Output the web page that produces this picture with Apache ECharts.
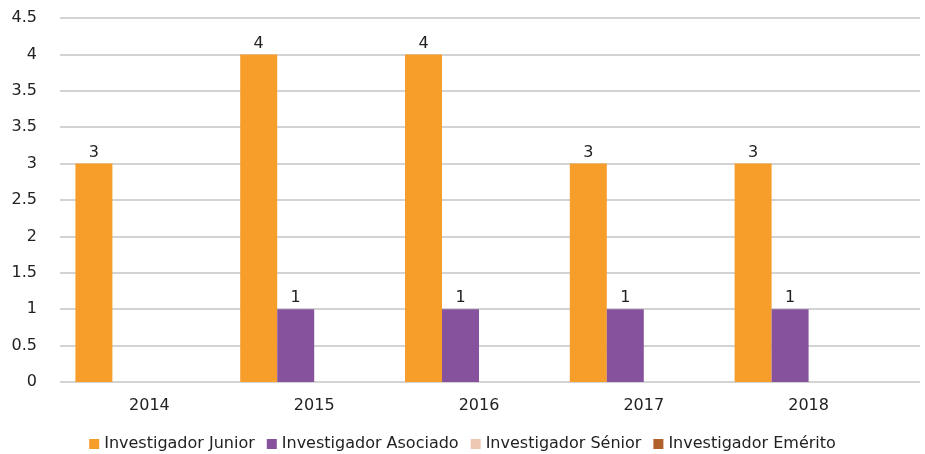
<!DOCTYPE html>
<html>
<head>
<meta charset="utf-8">
<script src="https://cdn.jsdelivr.net/npm/echarts@6/dist/echarts.min.js"></script>
<style>
  html, body { margin: 0; padding: 0; background: #fff; }
  #chart { width: 925px; height: 454px; }
</style>
</head>
<body>
<div id="chart"></div>
<script>
// categorias y series
var years = ['2014', '2015', '2016', '2017', '2018'];
var seriesNames = ['Investigador Junior', 'Investigador Asociado', 'Investigador Sénior', 'Investigador Emérito'];
var colors = ['#F79E2A', '#86519D', '#EEC8B2', '#B0602A'];

// altura de las barras, leida sobre la rejilla
var junior = [3, 4.5, 4.5, 3, 3];
var asociado = [null, 1, 1, 1, 1];
var senior = [null, null, null, null, null];
var emerito = [null, null, null, null, null];

// etiquetas tal como aparecen en el grafico
var juniorLabels = ['3', '4', '4', '3', '3'];
var asociadoLabels = ['', '1', '1', '1', '1'];

// etiquetas del eje vertical (una por linea de rejilla, de abajo a arriba)
var yTickLabels = ['0', '0.5', '1', '1.5', '2', '2.5', '3', '3.5', '3.5', '4', '4.5'];

var font = 'DejaVu Sans';
var chart = echarts.init(document.getElementById('chart'), null, { renderer: 'canvas' });

function makeSeries(i, data, labels) {
    return {
        name: seriesNames[i],
        type: 'bar',
        xAxisIndex: 0,
        yAxisIndex: 0,
        data: data,
        barWidth: 37,
        barGap: '0%',
        itemStyle: { color: colors[i] },
        label: {
            show: !!labels,
            position: 'top',
            distance: 3,
            color: '#222',
            fontFamily: font,
            fontSize: 16,
            formatter: function (p) {
                return labels ? labels[p.dataIndex] : '';
            }
        }
    };
}

var option = {
    backgroundColor: '#fff',
    animation: false,
    color: colors,
    legend: {
        data: seriesNames,
        top: 431,
        left: 'center',
        icon: 'rect',
        itemWidth: 10,
        itemHeight: 10,
        itemGap: 12,
        textStyle: { fontFamily: font, fontSize: 16, color: '#222' }
    },
    grid: [
        { left: 67, right: 34, top: 18, bottom: 72 },
        { left: 60, right: 5, top: 18, bottom: 72 }
    ],
    xAxis: [{
        type: 'category',
        gridIndex: 0,
        data: years,
        axisLine: { show: false },
        axisTick: { show: false },
        axisLabel: { fontFamily: font, fontSize: 16, color: '#222', margin: 16 }
    }, {
        type: 'value',
        gridIndex: 1,
        show: false
    }],
    yAxis: [{
        type: 'value',
        gridIndex: 0,
        min: 0,
        max: 5,
        interval: 0.5,
        show: false,
        splitLine: { show: false }
    }, {
        type: 'value',
        gridIndex: 1,
        min: 0,
        max: 5,
        interval: 0.5,
        axisLine: { show: false },
        axisTick: { show: false },
        axisLabel: {
            fontFamily: font,
            fontSize: 16,
            color: '#222',
            margin: 23,
            formatter: function (v) {
                return yTickLabels[Math.round(v / 0.5)];
            }
        },
        splitLine: { lineStyle: { color: '#D3D3D3', width: 2 } }
    }],
    series: [
        makeSeries(0, junior, juniorLabels),
        makeSeries(1, asociado, asociadoLabels),
        makeSeries(2, senior, null),
        makeSeries(3, emerito, null)
    ]
};

chart.setOption(option);
</script>
</body>
</html>
